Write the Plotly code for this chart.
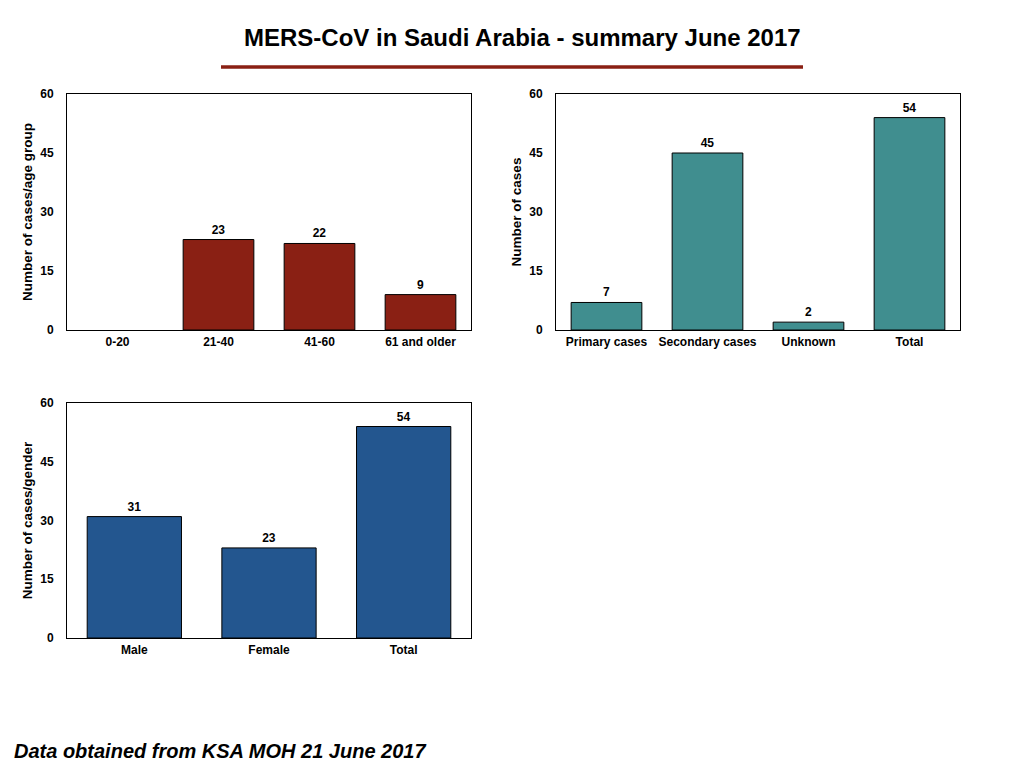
import plotly.graph_objects as go

# data
age_groups = ["0-20", "21-40", "41-60", "61 and older"]
age_cases = [0, 23, 22, 9]

case_types = ["Primary cases", "Secondary cases", "Unknown", "Total"]
type_cases = [7, 45, 2, 54]

genders = ["Male", "Female", "Total"]
gender_cases = [31, 23, 54]

red = "#8a2014"
teal = "#408e8f"
blue = "#23568f"
font = "Liberation Sans, Arial, sans-serif"

fig = go.Figure()


def add_panel(cats, vals, color, xa, ya):
    fig.add_trace(go.Bar(
        x=cats, y=vals,
        text=[str(v) if v else "" for v in vals],
        textposition="outside",
        textfont=dict(family=font, size=12, color="black", weight="bold"),
        marker=dict(color=color,
                    line=dict(color="black", width=[1 if v else 0 for v in vals])),
        width=0.7, cliponaxis=False,
        xaxis=xa, yaxis=ya, showlegend=False,
    ))


add_panel(age_groups, age_cases, red, "x", "y")
add_panel(case_types, type_cases, teal, "x2", "y2")
add_panel(genders, gender_cases, blue, "x3", "y3")

W, H = 1024, 768


def xdom(a, b):
    return [a / W, b / W]


def ydom(top, bottom):
    return [1 - bottom / H, 1 - top / H]


tick_font = dict(family=font, size=12, color="black", weight="bold")
axis_common = dict(showline=True, linecolor="black", linewidth=1, mirror=True,
                   showgrid=False, zeroline=False, tickfont=tick_font)

yaxis_common = dict(axis_common, range=[0, 60], tickvals=[0, 15, 30, 45, 60],
                    ticks="", ticklabelstandoff=10)
xaxis_common = dict(axis_common, ticks="", ticklabelstandoff=1)


def ytitle(t):
    return dict(text=t, font=dict(family=font, size=13.5, color="black", weight="bold"),
                standoff=4)


fig.update_layout(
    width=W, height=H,
    margin=dict(l=0, r=0, t=0, b=0, autoexpand=False),
    paper_bgcolor="white", plot_bgcolor="white",
    font=dict(family=font, color="black"),
    xaxis=dict(xaxis_common, domain=xdom(67, 471), anchor="y"),
    yaxis=dict(yaxis_common, domain=ydom(94, 330), anchor="x",
               title=ytitle("Number of cases/age group")),
    xaxis2=dict(xaxis_common, domain=xdom(556, 960), anchor="y2"),
    yaxis2=dict(yaxis_common, domain=ydom(94, 330), anchor="x2",
                title=ytitle("Number of cases")),
    xaxis3=dict(xaxis_common, domain=xdom(67, 471), anchor="y3"),
    yaxis3=dict(yaxis_common, domain=ydom(403, 638), anchor="x3",
                title=ytitle("Number of cases/gender")),
)

fig.add_annotation(text="<b>MERS-CoV in Saudi Arabia - summary June 2017</b>",
                   xref="paper", yref="paper", x=522 / W, y=1 - 38 / H,
                   xanchor="center", yanchor="middle", showarrow=False,
                   font=dict(family=font, size=24, color="black"))
fig.add_shape(type="line", xref="paper", yref="paper",
              x0=221 / W, x1=803 / W, y0=1 - 67 / H, y1=1 - 67 / H,
              line=dict(color=red, width=3.5))
fig.add_annotation(text="<b><i>Data obtained from KSA MOH 21 June 2017</i></b>",
                   xref="paper", yref="paper", x=12 / W, y=1 - 751 / H,
                   xanchor="left", yanchor="middle", showarrow=False,
                   font=dict(family=font, size=20, color="black"))

fig.write_html("out.html", config={"displayModeBar": False},
               post_script="document.body.style.margin='0';")
